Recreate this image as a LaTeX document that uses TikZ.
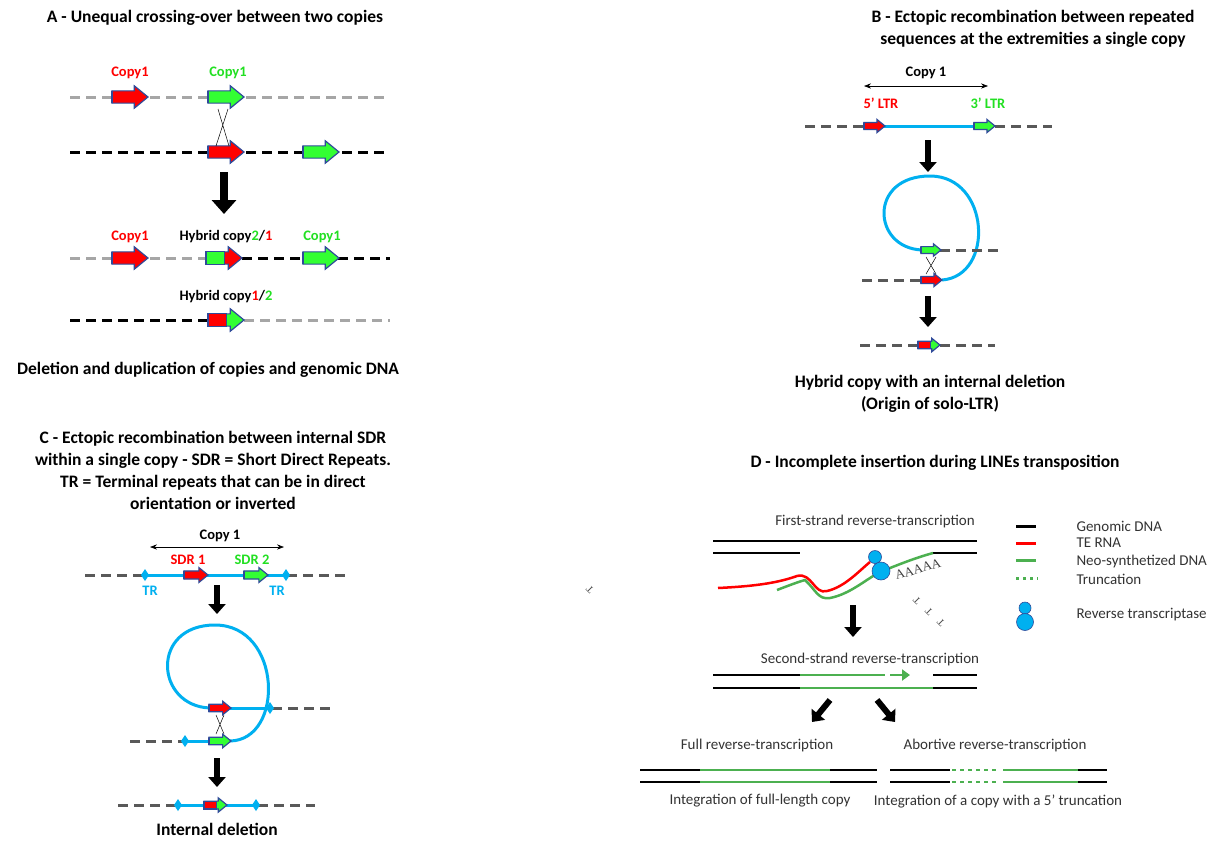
\documentclass[tikz,border=0pt]{standalone}
\usepackage{fontspec}
\setmainfont{Carlito}
\newfontfamily\serifa{Liberation Serif}
\usetikzlibrary{arrows.meta}
\definecolor{rd}{HTML}{FF0000}
\definecolor{gr}{HTML}{33FF33}
\definecolor{grt}{HTML}{22E022}
\definecolor{bl}{HTML}{00B0F0}
\definecolor{lgray}{HTML}{A6A6A6}
\definecolor{dgray}{HTML}{595959}
\definecolor{dgr}{HTML}{4CB050}
\definecolor{edge}{HTML}{2F4A9A}
\newcommand\blk[6]{% x y len colbody colhead split
 \filldraw[fill=#5,draw=edge,line width=1.2pt,line join=miter]
  (#1,{#2-0.17*#3})--({#1+0.62*#3},{#2-0.17*#3})--({#1+0.62*#3},{#2-0.31*#3})--({#1+#3},#2)
  --({#1+0.62*#3},{#2+0.31*#3})--({#1+0.62*#3},{#2+0.17*#3})--(#1,{#2+0.17*#3})--cycle;
 \filldraw[fill=#4,draw=edge,line width=1.2pt] (#1,{#2-0.17*#3}) rectangle ({#1+#6*#3},{#2+0.17*#3});}
\begin{document}
\begin{tikzpicture}[x=1pt,y=-1pt,
 ttl/.style={font=\fontsize{17.5}{22}\selectfont\bfseries,align=center},
 lab/.style={font=\fontsize{14.5}{17}\selectfont\bfseries},
 dt/.style={font=\fontsize{15}{18}\selectfont,text=black!80},
 dl/.style={line width=3pt,dash pattern=on 10pt off 6pt},
 bigar/.style={line width=8pt,-{Triangle[length=14pt 0,width=24pt 0]}},
 smar/.style={line width=6pt,-{Triangle[length=10pt 0,width=17pt 0]}},
 da/.style={{Stealth[length=7pt]}-{Stealth[length=7pt]},line width=0.7pt},
 blu/.style={bl,line width=3pt},
 dm/.style={fill=bl,draw=none},
 gl/.style={line width=2.5pt},
]
\useasboundingbox[fill=white] (0,0) rectangle (1229,844);
% ===== A =====
\node[ttl] (tA) at (215,18) {A - Unequal crossing-over between two copies};
\draw[dl,lgray] (70,97)--(390,97);
\draw[dl,black] (70,152)--(390,152);
\node[lab,text=rd] (a1) at (130,73) {Copy1};
\node[lab,text=grt] (a2) at (228,73) {Copy1};
\blk{112}{97}{36}{rd}{rd}{0}
\blk{208}{97}{36}{gr}{gr}{0}
\blk{208}{152}{36}{rd}{rd}{0}
\blk{303}{152}{36}{gr}{gr}{0}
\draw[line width=0.5pt] (218,109)--(229,146) (228,109)--(216,146);
\draw[bigar] (224,172)--(224,214);
\draw[dl,lgray] (70,258)--(208,258);
\draw[dl,black] (242,258)--(390,258);
\blk{112}{258}{36}{rd}{rd}{0}
\blk{206}{258}{36}{gr}{rd}{0.52}
\blk{303}{258}{36}{gr}{gr}{0}
\node[lab,text=rd] (a3) at (130,237) {Copy1};
\node[lab] (a4) at (226,237) {Hybrid copy{\color{grt}2}/{\color{rd}1}};
\node[lab,text=grt] (a5) at (322,237) {Copy1};
\draw[dl,black] (70,320)--(208,320);
\draw[dl,lgray] (244,320)--(390,320);
\blk{208}{320}{36}{rd}{gr}{0.52}
\node[lab] (a6) at (226,297) {Hybrid copy{\color{rd}1}/{\color{grt}2}};
\node[ttl] (a7) at (208,370) {Deletion and duplication of copies and genomic DNA};
% ===== B =====
\node[ttl] (tB) at (1033,29) {B - Ectopic recombination between repeated\\ sequences at the extremities a single copy};
\draw[da] (864,86)--(988,86);
\node[lab,text=black] (b0) at (926,73) {Copy 1};
\node[lab,text=rd] (b1) at (881,103) {5’ LTR};
\node[lab,text=grt] (b2) at (988,103) {3’ LTR};
\draw[dl,dgray] (805,126)--(864,126);
\draw[dl,dgray] (995,126)--(1052,126);
\draw[blu] (884,126)--(974,126);
\blk{864}{126}{21}{rd}{rd}{0}
\blk{974}{126}{21}{gr}{gr}{0}
\draw[smar] (928,140)--(928,172);
\draw[blu] (922,250) .. controls (872,248) and (868,176) .. (930,176) .. controls (990,176) and (995,276) .. (942,280);
\draw[dl,dgray] (940,250)--(1000,250);
\draw[dl,dgray] (862,280)--(922,280);
\draw[line width=0.5pt] (926,257)--(936,274) (936,257)--(926,274);
\blk{921}{250}{20}{gr}{gr}{0}
\blk{921}{280}{21}{rd}{rd}{0}
\draw[smar] (928,296)--(928,327);
\draw[dl,dgray] (860,345)--(918,345);
\draw[dl,dgray] (940,345)--(995,345);
\blk{918}{345}{22}{rd}{gr}{0.55}
\node[ttl] (b3) at (930,394) {Hybrid copy with an internal deletion\\(Origin of solo-LTR)};
% ===== C =====
\node[ttl] (tC) at (213,470) {C - Ectopic recombination between internal SDR\\ within a single copy - SDR = Short Direct Repeats.\\ TR = Terminal repeats that can be in direct\\ orientation or inverted};
\draw[da] (150,547)--(284,547);
\node[lab] (c0) at (220,536) {Copy 1};
\node[lab,text=rd] (c1) at (188,560) {SDR 1};
\node[lab,text=grt] (c2) at (252,560) {SDR 2};
\draw[dl,dgray] (85,575)--(145,575);
\draw[dl,dgray] (287,575)--(345,575);
\draw[blu] (145,575)--(287,575);
\blk{184}{575}{24}{rd}{rd}{0}
\blk{244}{575}{24}{gr}{gr}{0}
\fill[dm] (145,569)--(149,575)--(145,581)--(141,575)--cycle;
\fill[dm] (286,569)--(290,575)--(286,581)--(282,575)--cycle;
\node[lab,text=bl] (c3) at (150,591) {TR};
\node[lab,text=bl] (c4) at (277,591) {TR};
\draw[smar] (217,585)--(217,614);
\draw[blu] (210,708) .. controls (155,706) and (150,625) .. (215,625) .. controls (282,625) and (285,740) .. (230,741);
\draw[blu] (230,708)--(270,708);
\draw[dl,dgray] (272,708)--(330,708);
\fill[dm] (270,702)--(274,708)--(270,714)--(266,708)--cycle;
\draw[blu] (185,741)--(210,741);
\draw[dl,dgray] (130,741)--(183,741);
\fill[dm] (185,735)--(189,741)--(185,747)--(181,741)--cycle;
\draw[line width=0.5pt] (216,715)--(224,734) (224,715)--(216,734);
\blk{209}{708}{22}{rd}{rd}{0}
\blk{209}{741}{22}{gr}{gr}{0}
\draw[smar] (217,758)--(217,787);
\draw[dl,dgray] (118,805)--(178,805);
\draw[dl,dgray] (258,805)--(315,805);
\draw[blu] (178,805)--(256,805);
\fill[dm] (178,799)--(182,805)--(178,811)--(174,805)--cycle;
\fill[dm] (256,799)--(260,805)--(256,811)--(252,805)--cycle;
\blk{204}{805}{23}{rd}{gr}{0.55}
\node[ttl] (c5) at (217,829) {Internal deletion};
% ===== D =====
\node[ttl] (tD) at (935,463) {D - Incomplete insertion during LINEs transposition};
\node[dt] (d1) at (875,521) {First-strand reverse-transcription};
\draw[gl] (713,541)--(977,541) (713,553)--(800,553) (933,553)--(977,553);
\draw[gl,rd] (718,588) .. controls (760,586) and (780,582) .. (797,576) .. controls (812,572) and (814,595) .. (827,591) .. controls (845,587) and (860,570) .. (870,562);
\draw[gl,dgr] (777,590) .. controls (790,585) and (798,582) .. (805,580) .. controls (816,590) and (818,600) .. (830,598) .. controls (850,594) and (865,580) .. (880,572) .. controls (900,564) and (915,558) .. (933,553);
\filldraw[fill=bl,draw=edge,line width=0.6pt] (875,557) circle (6.5);
\filldraw[fill=bl,draw=edge,line width=0.6pt] (881,571) circle (9);
\node[font=\fontsize{13}{14}\selectfont\serifa,rotate=16,text=black!75,inner sep=0pt] (aa) at (918,569) {AAAAA};
\foreach \i/\x/\y in {1/905,590,2/917/601,3/929/612,4/941/623}
  \node[font=\fontsize{10}{12}\selectfont\serifa,rotate=135,text=black!75,inner sep=0pt] (t\i) at (\x,\y) {T};
% legend
\draw[line width=3pt] (1016,526)--(1036,526);
\draw[line width=3pt,rd] (1016,543)--(1036,543);
\draw[line width=3pt,dgr] (1016,560)--(1036,560);
\draw[line width=3pt,dgr,dash pattern=on 3pt off 4pt] (1016,578)--(1038,578);
\filldraw[fill=bl,draw=edge,line width=0.6pt] (1025,608) circle (6);
\filldraw[fill=bl,draw=edge,line width=0.6pt] (1025,622) circle (8.5);
\node[dt,anchor=west] (l1) at (1073,526) {Genomic DNA};
\node[dt,anchor=west] (l2) at (1073,543) {TE RNA};
\node[dt,anchor=west] (l3) at (1073,561) {Neo-synthetized DNA};
\node[dt,anchor=west] (l4) at (1073,579) {Truncation};
\node[dt,anchor=west] (l5) at (1073,615) {Reverse transcriptase};
\draw[smar] (853,605)--(853,637);
\node[dt] (d2) at (870,659) {Second-strand reverse-transcription};
\draw[gl] (713,675)--(800,675) (933,675)--(977,675) (713,688)--(800,688) (933,688)--(977,688);
\draw[gl,dgr] (800,675)--(885,675) (800,688)--(933,688);
\draw[gl,dgr,-{Triangle[length=8pt 0,width=11pt 0]}] (890,675)--(910,675);
\draw[smar] (830,700)--(812,722);
\draw[smar] (877,700)--(895,722);
\node[dt] (d3) at (757,745) {Full reverse-transcription};
\node[dt] (d4) at (995,745) {Abortive reverse-transcription};
\draw[gl] (640,770)--(700,770) (830,770)--(877,770) (640,782)--(700,782) (830,782)--(877,782);
\draw[gl,dgr] (700,770)--(830,770) (700,782)--(830,782);
\draw[gl] (890,770)--(950,770) (1078,770)--(1107,770) (890,782)--(950,782) (1078,782)--(1107,782);
\draw[gl,dgr,dash pattern=on 4pt off 4pt] (952,770)--(998,770) (952,782)--(998,782);
\draw[gl,dgr] (1003,770)--(1078,770) (1003,782)--(1078,782);
\node[dt] (d5) at (760,801) {Integration of full-length copy};
\node[dt] (d6) at (998,801) {Integration of a copy with a 5’ truncation};
\end{tikzpicture}
\end{document}
